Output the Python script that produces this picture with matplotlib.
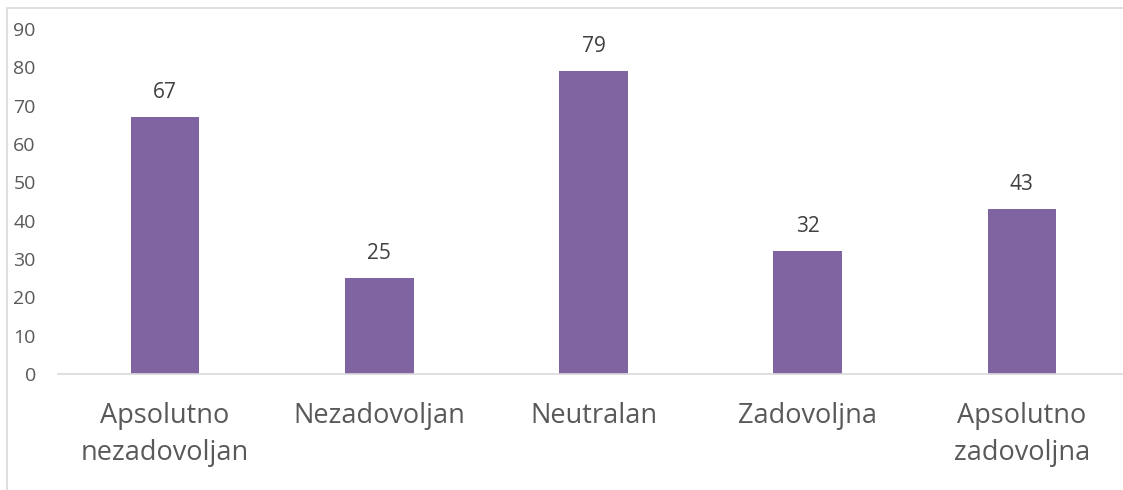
import matplotlib.pyplot as plt
from matplotlib.patches import Rectangle

# Survey satisfaction counts
categories = ["Apsolutno\nnezadovoljan", "Nezadovoljan", "Neutralan", "Zadovoljna", "Apsolutno\nzadovoljna"]
counts = [67, 25, 79, 32, 43]
y_ticks = [0, 10, 20, 30, 40, 50, 60, 70, 80, 90]

plt.rcParams["font.family"] = ["Open Sans", "DejaVu Sans"]

fig = plt.figure(figsize=(11.23, 4.9), dpi=100)

# Chart-area frame (only the left and top edges fall inside the image)
fig.patches.append(Rectangle((7 / 1123, -0.5), 2.0, 1 - 8 / 490 + 0.5,
                             transform=fig.transFigure, fill=False,
                             edgecolor="#D9D9D9", linewidth=1.2))

ax = fig.add_axes([58 / 1123, 1 - 374 / 490, 1071 / 1123, 345 / 490])
x = range(len(categories))
bars = ax.bar(x, counts, width=0.32, color="#8064A2", zorder=2)

for b, v in zip(bars, counts):
    ax.annotate(str(v), (b.get_x() + b.get_width() / 2, v),
                xytext=(0, 10), textcoords="offset points",
                ha="center", va="bottom", fontsize=15, color="#404040")

ax.set_xlim(-0.5, len(categories) - 0.5)
ax.set_ylim(0, 90)
ax.set_yticks(y_ticks)
ax.set_xticks(list(x))
ax.set_xticklabels(categories, fontsize=19.5, color="#595959", linespacing=1.45)
ax.tick_params(axis="y", length=0, pad=16, labelsize=14, labelcolor="#595959")
ax.tick_params(axis="x", length=0, pad=20)

for side in ["top", "right", "left"]:
    ax.spines[side].set_visible(False)
ax.spines["bottom"].set_color("#D9D9D9")
ax.spines["bottom"].set_linewidth(1.2)

fig.savefig("out.png", dpi=100)
